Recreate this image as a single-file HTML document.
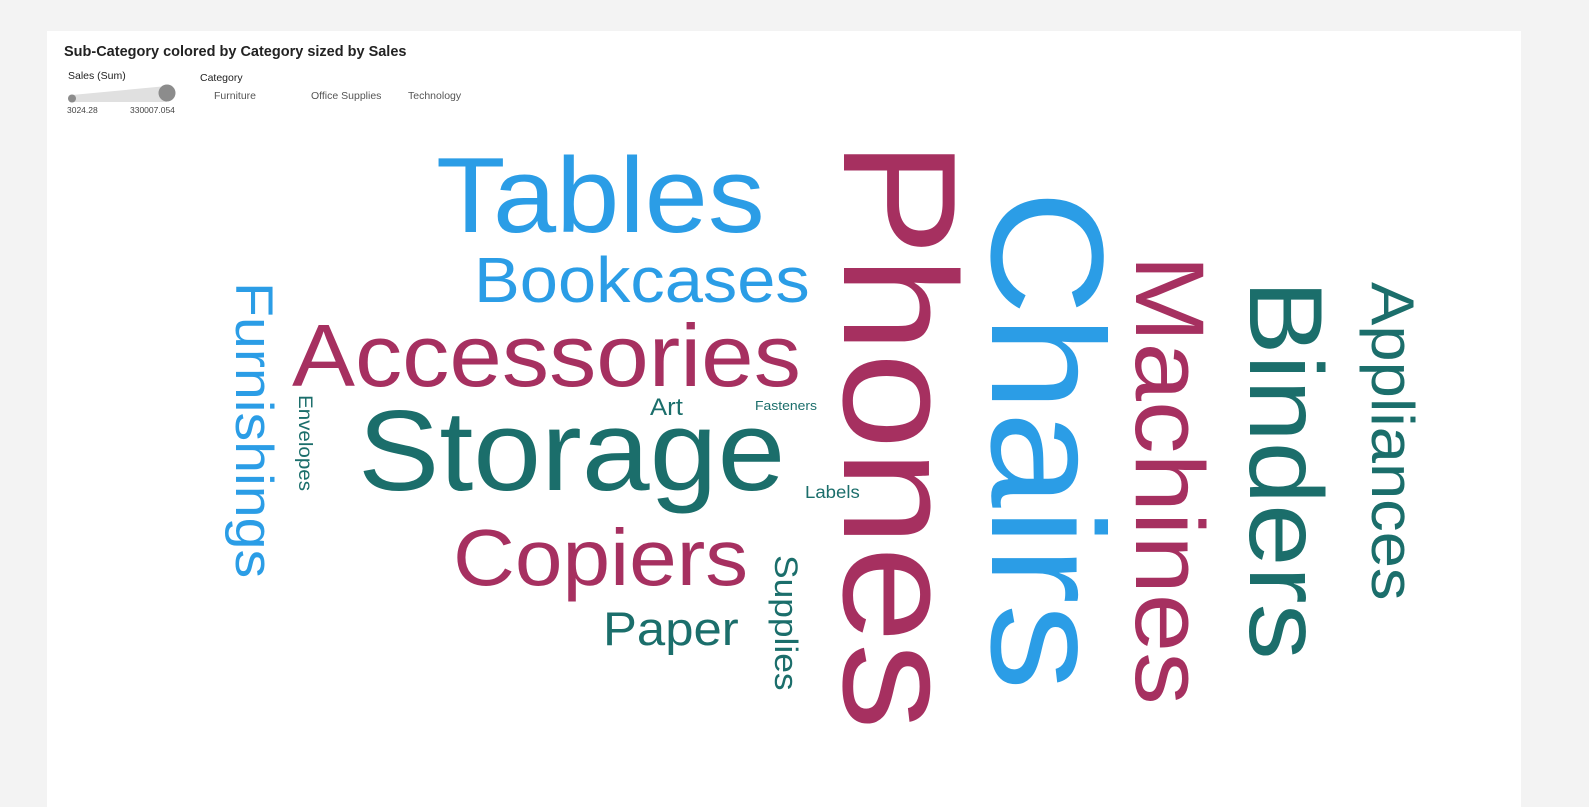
<!DOCTYPE html>
<html><head><meta charset="utf-8"><style>
html,body{margin:0;padding:0;background:#f3f3f3;width:1589px;height:807px;overflow:hidden;font-family:"Liberation Sans",sans-serif}
#card{position:absolute;left:47px;top:31px;width:1474px;height:776px;background:#fff}
</style></head><body>
<div id="card"></div>
<svg id="chart" width="1589" height="807" style="position:absolute;left:0;top:0">
<text x="64" y="56" font-size="14.5" font-weight="bold" fill="#222">Sub-Category colored by Category sized by Sales</text>
<g>
<text x="68" y="79" font-size="10.5" fill="#222">Sales (Sum)</text>
<polygon points="72,95 167,86 167,102 72,102" fill="#e0e0e0"/>
<circle cx="72" cy="98.5" r="4" fill="#8c8c8c"/>
<circle cx="167" cy="93" r="8.5" fill="#8c8c8c"/>
<text x="67" y="113" font-size="8.5" fill="#444">3024.28</text>
<text x="130" y="113" font-size="8.5" fill="#444">330007.054</text>
</g>
<g>
<text x="200" y="81" font-size="10.5" fill="#222">Category</text>
<text x="214" y="99" font-size="10.5" fill="#555">Furniture</text>
<text x="311" y="99" font-size="10.5" fill="#555">Office Supplies</text>
<text x="408" y="99" font-size="10.5" fill="#555">Technology</text>
</g>
<g id="words"></g>
</svg>
<script>
const subCategories = ["Phones","Chairs","Storage","Tables","Binders","Machines","Accessories","Copiers","Bookcases","Appliances","Furnishings","Paper","Supplies","Art","Envelopes","Labels","Fasteners"];
const sales = [330007.054,328449.103,223843.608,206965.532,203412.733,189238.631,167380.318,149528.03,114879.996,107532.161,91705.164,78479.206,46673.538,27118.792,16476.402,12486.312,3024.28];
const categories = ["Technology","Furniture","Office Supplies","Furniture","Office Supplies","Technology","Technology","Technology","Furniture","Office Supplies","Furniture","Office Supplies","Office Supplies","Office Supplies","Office Supplies","Office Supplies","Office Supplies"];
// layout: [x, y, vertical]
const layout = [[844,140,1],[992,190,1],[358,490,0],[436,232,0],[1250,280,1],[1136,255,1],[292,386,0],[453,585,0],[474,302,0],[1372,282,1],[236,282,1],[603,645,0],[775,555,1],[650,415,0],[299,395,1],[805,498,0],[755,410,0]];
const colorMap = {"Furniture":"#2b9de6","Office Supplies":"#1b6e6b","Technology":"#a63060"};
const minS = Math.min(...sales), maxS = Math.max(...sales);
function sizeScale(v){return 15 + 172*(v-minS)/(maxS-minS);}
const g = document.getElementById('words');
const NS = "http://www.w3.org/2000/svg";
subCategories.forEach((w,i)=>{
  const t = document.createElementNS(NS,'text');
  const [x,y,v] = layout[i];
  const fs = sizeScale(sales[i]);
  t.setAttribute('font-size', fs.toFixed(1));
  t.setAttribute('fill', colorMap[categories[i]]);
  t.setAttribute('font-family','"Liberation Sans", sans-serif');
  if(v){ t.setAttribute('transform',`translate(${x},${y}) rotate(90)`); }
  else { t.setAttribute('x',x); t.setAttribute('y',y); }
  t.textContent = w;
  
  
  g.appendChild(t);
  const L = t.getComputedTextLength();
  const hf = v ? 0.86 : 0.87;
  t.setAttribute('font-size', (fs*hf).toFixed(1));
  t.setAttribute('textLength', (L*0.93).toFixed(1));
  t.setAttribute('lengthAdjust','spacingAndGlyphs');
});
</script>
</body></html>
